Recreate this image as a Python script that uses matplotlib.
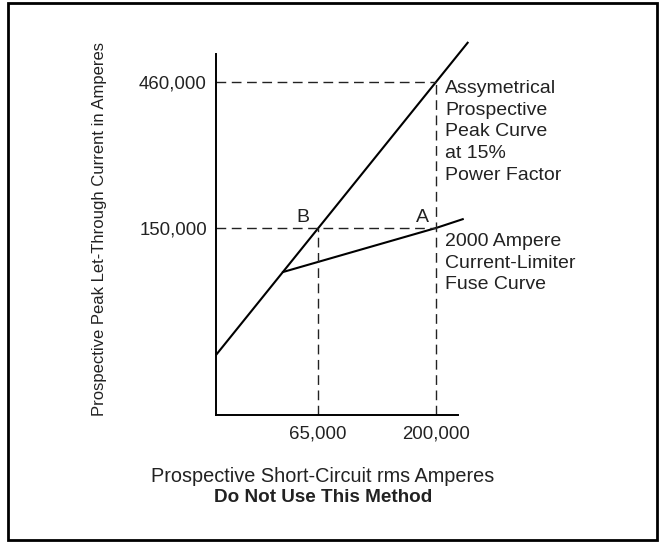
import matplotlib
matplotlib.use("Agg")
import matplotlib.pyplot as plt
from matplotlib.patches import Rectangle
import numpy as np

plt.rcParams['font.family'] = ['Liberation Sans', 'DejaVu Sans']

# data (rms amperes -> peak let-through amperes)
peak_factor = 2.3                       # asymmetrical peak at 15% power factor
peak_x = [24600, 272000]                # prospective rms range of the peak curve
fuse_x = [46600, 200000, 258000]        # fuse curve: knee, point A, end
fuse_y = [107000, 150000, 160500]
point_a = (200000, 150000)
point_b = (65000, 150000)
peak_mark = (200000, 460000)
xticks = [65000, 200000]
xtick_labels = ["65,000", "200,000"]
yticks = [150000, 460000]
ytick_labels = ["150,000", "460,000"]

fig = plt.figure(figsize=(6.62, 5.43), dpi=100)
ax = fig.add_axes([216/662, 1-415/543, 242/662, 361/543])
ax.set_xscale('log')
ax.set_yscale('log')
ax.set_xlim(24600, 246600)
ax.set_ylim(35700, 570300)

# curves
px = np.array(peak_x)
ax.plot(px, peak_factor*px, color='black', lw=1.5, clip_on=False, solid_capstyle='butt')
ax.plot(fuse_x, fuse_y, color='black', lw=1.5, clip_on=False)

# dashed guide lines
dash = dict(color='#222222', lw=1.0, dashes=(7, 4))
x0 = ax.get_xlim()[0]
y0 = ax.get_ylim()[0]
ax.plot([x0, peak_mark[0]], [peak_mark[1], peak_mark[1]], **dash)
ax.plot([x0, point_a[0]], [point_a[1], point_a[1]], **dash)
ax.plot([point_b[0], point_b[0]], [y0, point_b[1]], **dash)
ax.plot([peak_mark[0], peak_mark[0]], [y0, peak_mark[1]], **dash)

# axes styling
for s in ['top', 'right']:
    ax.spines[s].set_visible(False)
for s in ['left', 'bottom']:
    ax.spines[s].set_linewidth(1.4)
ax.minorticks_off()
ax.set_xticks(xticks)
ax.set_xticklabels(xtick_labels)
ax.set_yticks(yticks)
ax.set_yticklabels(ytick_labels)
ax.tick_params(length=0, labelsize=13.4, colors='#222222')
ax.tick_params(axis='y', pad=6.5)
ax.tick_params(axis='x', pad=7.5)

ax.set_ylabel("Prospective Peak Let-Through Current in Amperes", fontsize=12,
              color='#222222')
ax.yaxis.set_label_coords(-0.45, 0.515)

# point labels
txt = dict(fontsize=14, color='#222222', textcoords='offset pixels')
ax.annotate("B", xy=point_b, xytext=(-15, 10), ha='center', va='center', **txt)
ax.annotate("A", xy=point_a, xytext=(-14, 10), ha='center', va='center', **txt)
ax.annotate("Assymetrical\nProspective\nPeak Curve\nat 15%\nPower Factor",
            xy=peak_mark, xytext=(9, 2), ha='left', va='top', linespacing=1.36,
            annotation_clip=False, **txt)
ax.annotate("2000 Ampere\nCurrent-Limiter\nFuse Curve",
            xy=point_a, xytext=(9, -5), ha='left', va='top', linespacing=1.36,
            annotation_clip=False, **txt)

# x label and note
fig.text(323/662, 1-477/543, "Prospective Short-Circuit rms Amperes",
         ha='center', va='center', fontsize=14.3, color='#222222')
fig.text(323/662, 1-498/543, "Do Not Use This Method",
         ha='center', va='center', fontsize=13.6, fontweight='bold', color='#222222')

# frame round the figure
fig.patches.append(Rectangle((8/662, 3/543), 649/662, 537/543, transform=fig.transFigure,
                             fill=False, edgecolor='black', lw=2.0))

fig.savefig("out.png", dpi=100)
